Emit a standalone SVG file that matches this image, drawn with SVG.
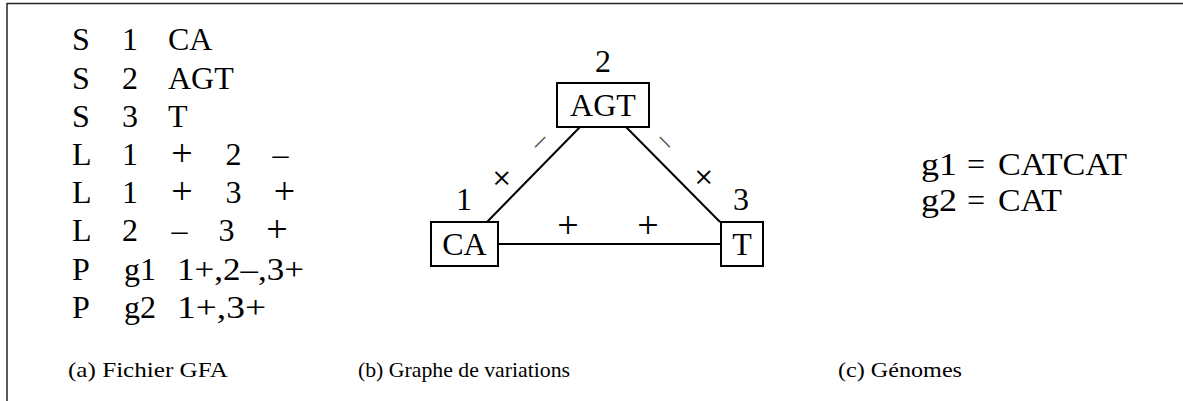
<svg xmlns="http://www.w3.org/2000/svg" width="1183" height="401" viewBox="0 0 1183 401">
<style>
text{font-family:"Liberation Serif","DejaVu Serif",serif;fill:#000}
.t{font-size:32px}
.m{text-anchor:middle}
.p{font-size:38px;text-anchor:middle}
.cap{font-size:21px}
.box{fill:#fff;stroke:#000;stroke-width:2}
.edge{stroke:#000;stroke-width:2;fill:none}
.sym{font-size:38px;text-anchor:middle;dominant-baseline:central}
.dash{font-size:28px;text-anchor:middle;dominant-baseline:central;fill:#555}
</style>
<rect width="1183" height="401" fill="#fff"/>
<g id="frame">
<line x1="7" y1="3.5" x2="1183" y2="3.5" stroke="#222" stroke-width="1.5"/>
<line x1="7" y1="3" x2="7" y2="401" stroke="#222" stroke-width="1.5"/>
</g>
<g id="gfa" class="t">
<text x="72" y="50">S</text><text x="122" y="50">1</text><text x="168" y="50">CA</text>
<text x="72" y="89">S</text><text x="122" y="89">2</text><text x="168" y="89">AGT</text>
<text x="72" y="127">S</text><text x="122" y="127">3</text><text x="168" y="127">T</text>
<text x="72" y="165">L</text><text x="122" y="165">1</text><text class="p" x="182" y="166">+</text><text class="m" x="233.5" y="165">2</text><text class="m" x="280.5" y="165">–</text>
<text x="72" y="203">L</text><text x="122" y="203">1</text><text class="p" x="182" y="204">+</text><text class="m" x="233.5" y="203">3</text><text class="p" x="284.5" y="204">+</text>
<text x="72" y="241">L</text><text x="122" y="241">2</text><text class="m" x="179.5" y="241">–</text><text class="m" x="226.5" y="241">3</text><text class="p" x="277" y="242">+</text>
<text x="72" y="280">P</text><text x="124" y="280">g1</text><text x="177" y="280" textLength="127" lengthAdjust="spacingAndGlyphs">1+,2–,3+</text>
<text x="72" y="318">P</text><text x="124" y="318">g2</text><text x="177" y="318" textLength="89" lengthAdjust="spacingAndGlyphs">1+,3+</text>
</g>
<g id="connectors">
<line class="edge" x1="487" y1="222" x2="580" y2="127"/>
<line class="edge" x1="626" y1="127" x2="720" y2="222"/>
<line class="edge" x1="498" y1="244" x2="721" y2="244"/>
<text class="dash" transform="translate(538,140) rotate(-45)">–</text>
<text class="sym" transform="translate(502,178) rotate(45)">+</text>
<text class="dash" transform="translate(667,140) rotate(45)">–</text>
<text class="sym" transform="translate(704,177) rotate(45)">+</text>
<text class="sym" x="568" y="225">+</text>
<text class="sym" x="648" y="225">+</text>
</g>
<g id="node1">
<rect class="box" x="431" y="222" width="67" height="44"/>
<text class="t m" x="464.5" y="255">CA</text>
<text class="t m" x="464" y="210">1</text>
</g>
<g id="node2">
<rect class="box" x="557" y="83" width="92" height="44"/>
<text class="t m" x="603" y="116">AGT</text>
<text class="t m" x="603" y="72">2</text>
</g>
<g id="node3">
<rect class="box" x="721" y="222" width="42" height="44"/>
<text class="t m" x="742" y="255">T</text>
<text class="t m" x="741" y="210">3</text>
</g>
<g id="genomes" class="t">
<text x="921" y="175" textLength="36" lengthAdjust="spacingAndGlyphs">g1</text>
<text class="m" x="976" y="175">=</text>
<text x="998" y="175" textLength="129" lengthAdjust="spacingAndGlyphs">CATCAT</text>
<text x="921" y="211" textLength="36" lengthAdjust="spacingAndGlyphs">g2</text>
<text class="m" x="976" y="211">=</text>
<text x="998" y="211" textLength="64" lengthAdjust="spacingAndGlyphs">CAT</text>
</g>
<g id="captions" class="cap">
<text x="68" y="377" textLength="160" lengthAdjust="spacingAndGlyphs">(a) Fichier GFA</text>
<text x="358" y="377" textLength="212" lengthAdjust="spacingAndGlyphs">(b) Graphe de variations</text>
<text x="838" y="377" textLength="124" lengthAdjust="spacingAndGlyphs">(c) Génomes</text>
</g>
</svg>
